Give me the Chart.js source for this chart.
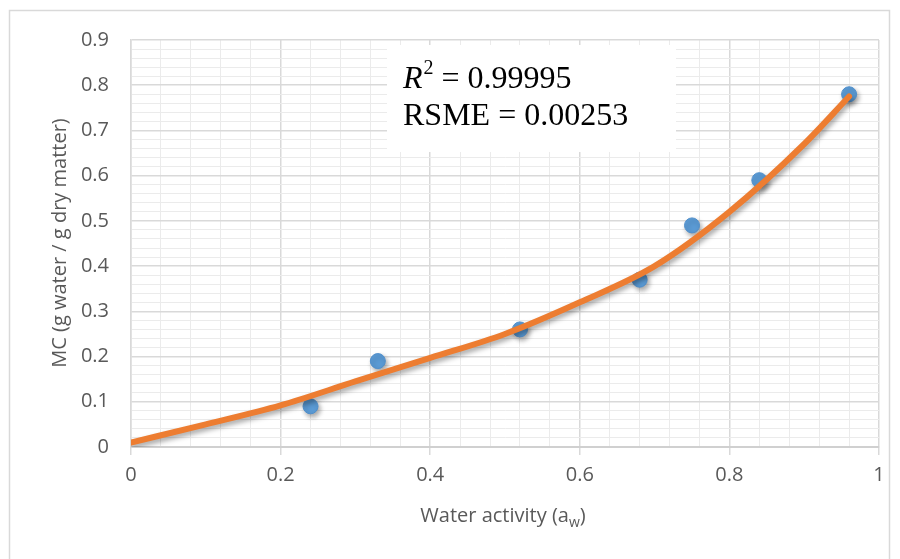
<!DOCTYPE html>
<html>
<head>
<meta charset="utf-8">
<script src="https://cdn.jsdelivr.net/npm/chart.js@4/dist/chart.umd.min.js"></script>
<style>
  html, body { margin: 0; padding: 0; background: #fff; }
  #wrap { width: 900px; height: 559px; }
</style>
</head>
<body>
<div id="wrap"><canvas id="chart" width="900" height="559"></canvas></div>
<script>
// measured points
aw_values = [0.24, 0.33, 0.52, 0.68, 0.75, 0.84, 0.96]
mc_values = [0.09, 0.19, 0.26, 0.37, 0.49, 0.59, 0.78]

// fitted curve
fit_aw = [0, 0.1, 0.2, 0.3, 0.4, 0.5, 0.6, 0.7, 0.8, 0.9, 0.96]
fit_mc = [0.01, 0.05, 0.092, 0.145, 0.197, 0.25, 0.32, 0.40, 0.52, 0.67, 0.775]

stat_lines = ["= 0.99995", "RSME = 0.00253"]
x_title = "Water activity (a"
y_title = "MC (g water / g dry matter)"

MAJOR = "#d9d9d9"
MINOR = "#ebebeb"
TICK_FONT = {family: "'Open Sans'", size: 20}

function isMajor(v, step)
{
    var r = v / step
    return Math.abs(r - Math.round(r)) < 1e-6
}

function toXY(xs, ys)
{
    var out = []
    for (let i = 0; i < xs.length; i++)
        out.push({x: xs[i], y: ys[i]})
    return out
}

// shadow under marks, like the office charts do
var shadowPlugin = {
    id: "shadow",
    beforeDatasetDraw(chart, args) {
        var ctx = chart.ctx
        ctx.save()
        ctx.shadowColor = "rgba(0,0,0,0.35)"
        ctx.shadowBlur = 5
        ctx.shadowOffsetX = 2
        ctx.shadowOffsetY = 3
    },
    afterDatasetDraw(chart, args) {
        chart.ctx.restore()
    }
}

var boxPlugin = {
    id: "statbox",
    beforeDatasetsDraw(chart) {
        var ctx = chart.ctx
        ctx.save()
        ctx.fillStyle = "#fff"
        ctx.fillRect(387, 45, 289, 107)
        ctx.fillStyle = "#000"
        ctx.textBaseline = "alphabetic"
        ctx.textAlign = "left"
        ctx.font = "italic 32px 'Liberation Serif'"
        ctx.fillText("R", 403, 88)
        var w = ctx.measureText("R").width
        ctx.font = "20px 'Liberation Serif'"
        ctx.fillText("2", 403 + w + 1, 74)
        var w2 = ctx.measureText("2").width
        ctx.font = "32px 'Liberation Serif'"
        ctx.fillText(" " + stat_lines[0], 403 + w + w2 + 1, 88)
        ctx.fillText(stat_lines[1], 403, 125)
        ctx.restore()
    },
    afterDraw(chart) {
        var ctx = chart.ctx
        ctx.save()
        // outer frame
        ctx.strokeStyle = "#d9d9d9"
        ctx.lineWidth = 1.5
        ctx.strokeRect(9.5, 10.5, 880, 570)
        ctx.fillStyle = "#595959"
        // x title with subscript w
        ctx.font = "20px 'Open Sans'"
        var wMain = ctx.measureText(x_title).width
        ctx.font = "14px 'Open Sans'"
        var wSub = ctx.measureText("w").width
        ctx.font = "20px 'Open Sans'"
        var wEnd = ctx.measureText(")").width
        var x0 = 503 - (wMain + wSub + wEnd) / 2
        ctx.textBaseline = "alphabetic"
        ctx.fillText(x_title, x0, 522)
        ctx.font = "14px 'Open Sans'"
        ctx.fillText("w", x0 + wMain, 527)
        ctx.font = "20px 'Open Sans'"
        ctx.fillText(")", x0 + wMain + wSub, 522)
        // y title
        ctx.translate(60, 243)
        ctx.rotate(-Math.PI / 2)
        ctx.textAlign = "center"
        ctx.textBaseline = "middle"
        ctx.fillText(y_title, 0, 0)
        ctx.restore()
    }
}

new Chart("chart", {
    type: "scatter",
    data: {
        datasets: [
            {
                label: "fit",
                type: "line",
                data: toXY(fit_aw, fit_mc),
                borderColor: "#ed7d31",
                borderWidth: 6,
                pointRadius: 0,
                fill: false,
                tension: 0.4,
                cubicInterpolationMode: "monotone",
                borderCapStyle: "round",
                order: 0
            },
            {
                label: "data",
                data: toXY(aw_values, mc_values),
                backgroundColor: "#5b9bd5",
                borderColor: "#4f8fcc",
                borderWidth: 1,
                pointRadius: 7.5,
                order: 1
            }
        ]
    },
    options: {
        responsive: false,
        animation: false,
        layout: {padding: {left: 0, right: 21, top: 40, bottom: 0}},
        plugins: {legend: {display: false}, tooltip: {enabled: false}},
        scales: {
            x: {
                type: "linear",
                min: 0, max: 1,
                afterFit(s) { s.height = 112 },
                ticks: {
                    stepSize: 0.04,
                    autoSkip: false,
                    maxRotation: 0,
                    padding: 8,
                    color: "#595959",
                    font: TICK_FONT,
                    callback: (v) => isMajor(v, 0.2) ? Math.round(v * 10) / 10 : ""
                },
                grid: {
                    color: (c) => isMajor(c.tick.value, 0.2) ? MAJOR : MINOR,
                    lineWidth: (c) => isMajor(c.tick.value, 0.2) ? 1.5 : 1,
                    tickColor: (c) => isMajor(c.tick.value, 0.2) ? MAJOR : "rgba(0,0,0,0)",
                    tickLength: 8
                },
                border: {color: "#d0d0d0", width: 2}
            },
            y: {
                type: "linear",
                min: 0, max: 0.9,
                afterFit(s) { s.width = 131 },
                ticks: {
                    stepSize: 0.02,
                    autoSkip: false,
                    padding: 22,
                    color: "#595959",
                    font: TICK_FONT,
                    callback: (v) => isMajor(v, 0.1) ? Math.round(v * 10) / 10 : ""
                },
                grid: {
                    color: (c) => isMajor(c.tick.value, 0.1) ? MAJOR : MINOR,
                    lineWidth: (c) => isMajor(c.tick.value, 0.1) ? 1.5 : 1,
                    drawTicks: false
                },
                border: {color: MAJOR, width: 1.5}
            }
        }
    },
    plugins: [shadowPlugin, boxPlugin]
})
</script>
</body>
</html>
